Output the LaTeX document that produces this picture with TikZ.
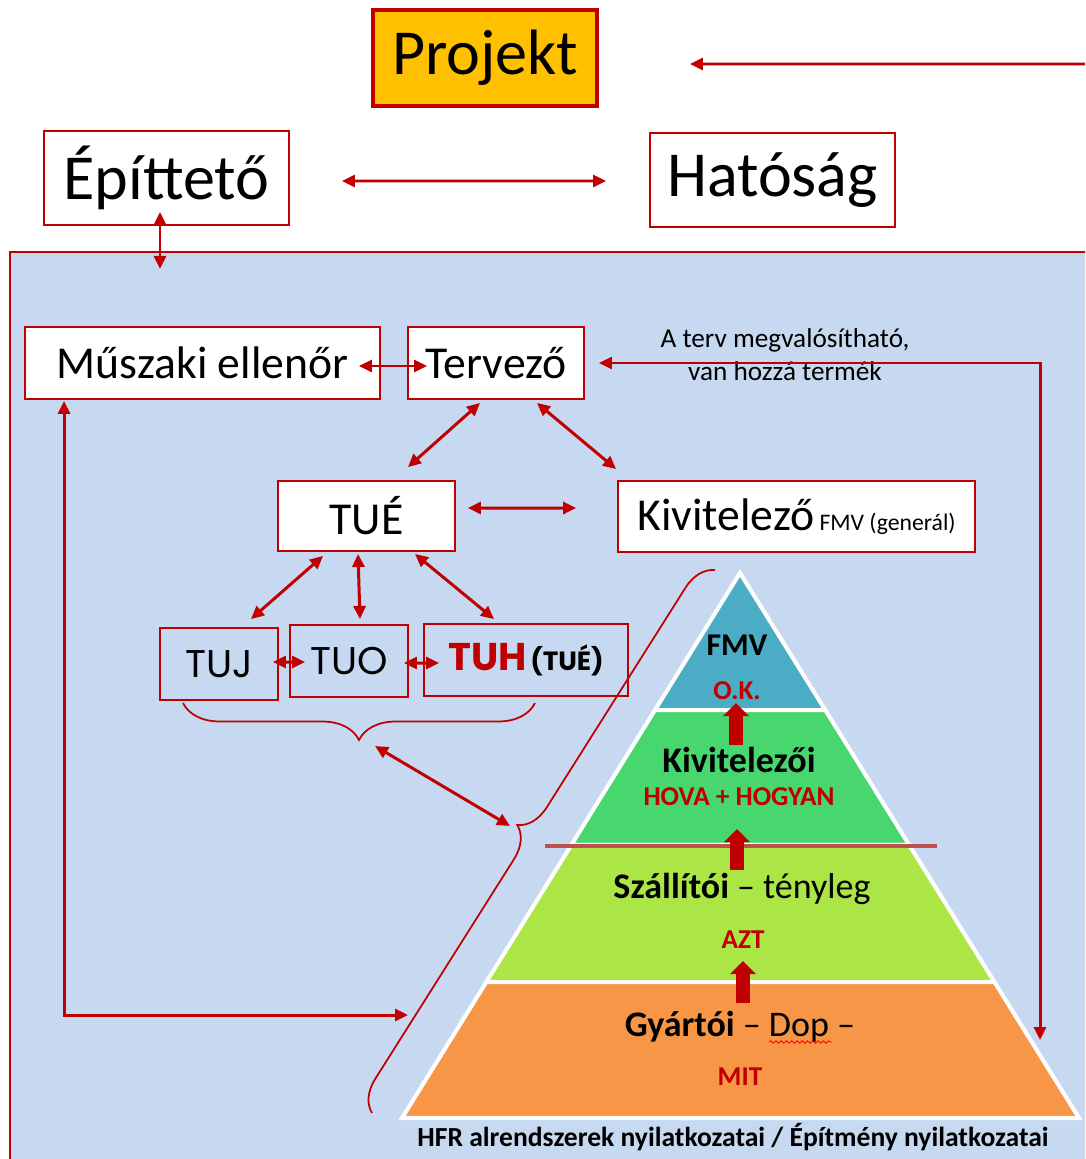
\documentclass[tikz,border=0pt]{standalone}
\usepackage{fontspec}
\setmainfont{Carlito}
\newfontfamily\geofont{Poppins}
\usetikzlibrary{arrows.meta,calc,decorations.pathreplacing,decorations.pathmorphing}

\definecolor{darkred}{HTML}{C00000}
\definecolor{projbg}{HTML}{FFC000}
\definecolor{bluebg}{HTML}{C6D9F1}
\definecolor{pyrblue}{HTML}{4BACC6}
\definecolor{pyrgreen}{RGB}{72,214,110}
\definecolor{pyrlime}{RGB}{172,230,70}
\definecolor{pyrorange}{HTML}{F79646}
\definecolor{cutline}{HTML}{C0504D}

\newcommand\fsz[1]{\fontsize{#1}{1.2\dimexpr#1pt\relax}\selectfont}

\tikzset{
  box/.style={draw=darkred, line width=1.1pt, fill=white, inner sep=0pt},
  link/.style={draw=darkred, line width=1.7pt,
    {Triangle[length=0.26cm,width=0.24cm]}-{Triangle[length=0.26cm,width=0.24cm]}},
  oneway/.style={draw=darkred, line width=1.7pt, -{Triangle[length=0.26cm,width=0.24cm]}},
  bracket/.style={draw=darkred, line width=1pt, decorate},
  bigup/.style={draw=darkred, line width=0.28cm, -{Triangle[length=0.26cm,width=0.5cm]}},
  lvl/.style={font=\fsz{20.5}, anchor=base},
  tag/.style={font=\fsz{15.5}\bfseries, text=darkred, anchor=base},
}

\begin{document}
\begin{tikzpicture}[x=0.02cm, y=-0.02cm]
\clip (0,0) rectangle (1085,1159);
\fill[white] (0,0) rectangle (1085,1159);

% felso sor
\node[box, fill=projbg, line width=2.3pt, minimum width=4.48cm, minimum height=1.92cm, font=\fsz{36.5}] (projekt) at (485,58) {Projekt};
\node[box, minimum width=4.9cm, minimum height=1.88cm, font=\fsz{36.5}] (epit) at (166.5,178) {Építtető};
\node[box, minimum width=4.9cm, minimum height=1.88cm, font=\fsz{36.5}] (hat) at (772.5,180) {Hatóság};
\coordinate (rightin) at (1100,64);
\draw[oneway] (rightin) -- ([xshift=1.82cm,yshift=-0.12cm]projekt.east);
\draw[link] ([xshift=1.04cm,yshift=-0.06cm]epit.east) -- ([xshift=-0.86cm,yshift=-0.02cm]hat.west);

% kek terulet
\filldraw[fill=bluebg, draw=darkred, line width=1.3pt] (10,252) rectangle (1110,1190);
\draw[link] ([xshift=-0.13cm,yshift=0.28cm]epit.south) -- ([xshift=-0.13cm,yshift=-0.86cm]epit.south);

\node[box, minimum width=7.1cm, minimum height=1.44cm, font=\fsz{26}] (muszaki) at (202.5,363) {Műszaki ellenőr};
\node[box, minimum width=3.52cm, minimum height=1.44cm, font=\fsz{26}] (terv) at (496,363) {Tervező};
\node[align=center, font=\fontsize{15.5}{18.7}\selectfont, inner sep=0pt, anchor=base] (megj) at (785,380) {A terv megvalósítható,\\ van hozzá termék};
\node[box, minimum width=3.54cm, minimum height=1.4cm, font=\fsz{26}] (tue) at (366.5,516) {TUÉ};
\node[box, minimum width=7.14cm, minimum height=1.42cm, font=\fsz{26}] (kiv) at (796.5,516.5) {Kivitelező{\fsz{13.5} FMV (generál)}};
\node[box, fill=none, minimum width=2.36cm, minimum height=1.44cm, font=\geofont\fsz{22}] (tuj) at (219,664) {TUJ};
\node[box, fill=none, minimum width=2.36cm, minimum height=1.44cm, font=\geofont\fsz{22}] (tuo) at (349,661) {TUO};
\node[box, fill=none, minimum width=4.08cm, minimum height=1.44cm, font=\geofont\bfseries] (tuh) at (526,660) {{\fsz{22}\color{darkred}TUH} {\fsz{15}(TUÉ)}};

\draw[link] ([xshift=-0.44cm,yshift=-0.06cm]muszaki.east) -- ([xshift=0.4cm,yshift=-0.06cm]terv.west);
\coordinate (dropR) at (1040,1040);
\draw[link] ([xshift=0.28cm]terv.east) -| (dropR);
\draw[link] ([xshift=-0.32cm,yshift=-0.06cm]terv.south) -- ([xshift=0.83cm,yshift=0.26cm]tue.north);
\draw[link] ([xshift=0.82cm,yshift=-0.06cm]terv.south) -- ([xshift=-0.02cm,yshift=0.22cm]kiv.north west);
\draw[link] ([xshift=0.24cm,yshift=0.16cm]tue.east) -- ([xshift=-0.82cm,yshift=0.17cm]kiv.west);
\draw[link] ([xshift=-0.87cm,yshift=-0.08cm]tue.south) -- ([xshift=0.64cm,yshift=0.16cm]tuj.north);
\draw[link] ([xshift=-0.17cm,yshift=-0.04cm]tue.south) -- ([xshift=0.22cm,yshift=0.1cm]tuo.north);
\draw[link] ([xshift=0.97cm,yshift=-0.04cm]tue.south) -- ([xshift=-0.64cm,yshift=0.08cm]tuh.north);
\draw[link] ([xshift=-0.12cm,yshift=0.04cm]tuj.east) -- ([xshift=0.32cm,yshift=-0.02cm]tuo.west);
\draw[link] ([xshift=-0.1cm,yshift=-0.04cm]tuo.east) -- ([xshift=0.32cm,yshift=-0.06cm]tuh.west);
\coordinate (pyrleft) at (408,1015);
\draw[link] ([xshift=0.8cm,yshift=-0.02cm]muszaki.south west) |- (pyrleft);

% piramis
\coordinate (apex) at (740,573);
\coordinate (bl) at (402,1118);
\coordinate (br) at (1079,1118);
\foreach \ta/\tb/\col in {0/0.2514/pyrblue, 0.2514/0.4991/pyrgreen, 0.4991/0.7505/pyrlime, 0.7505/1/pyrorange}
  \filldraw[fill=\col, draw=white, line width=2.3pt]
    ($(apex)!\ta!(bl)$) -- ($(apex)!\tb!(bl)$) -- ($(apex)!\tb!(br)$) -- ($(apex)!\ta!(br)$) -- cycle;
\draw[cutline, line width=2.8pt] (545,846) -- (937,846);
\foreach \x/\ya/\yb in {736/745/703, 737/870/829, 743/1003/961}
  \draw[bigup] (\x,\ya) -- (\x,\yb);

\node[font=\fsz{18}\bfseries, anchor=base] (fmv) at (737,655) {FMV};
\node[tag] (ok) at (737,699) {O.K.};
\node[lvl, font=\fsz{20.5}\bfseries] (kivl) at (739,772) {Kivitelezői};
\node[tag] (hova) at (739,805) {HOVA + HOGYAN};
\node[lvl] (szall) at (742,898) {\textbf{Szállítói} – tényleg};
\node[tag] (azt) at (743,948) {AZT};
\node[lvl] (gyart) at (740,1036) {\textbf{Gyártói} – Dop –};
\node[tag] (mit) at (740,1085) {MIT};
\node[font=\fsz{15.7}\bfseries, anchor=base] (hfr) at (733,1146) {HFR alrendszerek nyilatkozatai / Építmény nyilatkozatai};
\draw[red, line width=0.5pt, decorate, decoration={snake, amplitude=0.7pt, segment length=3pt}] (769,1042) -- (832,1042);

% kapcsos zarojelek
\coordinate (braceR) at (535,703);
\coordinate (braceL) at (183,703);
\coordinate (braceTip) at (375,746);
\coordinate (pbB) at (372,1113);
\coordinate (pbT) at (715,570);
\coordinate (pbTip) at (510,826);
\draw[bracket, decoration={brace, amplitude=0.74cm}] (braceR) -- (braceL);
\draw[bracket, decoration={brace, amplitude=0.62cm}] (pbB) -- (pbT);
\draw[link] (braceTip) -- (pbTip);
\end{tikzpicture}
\end{document}
